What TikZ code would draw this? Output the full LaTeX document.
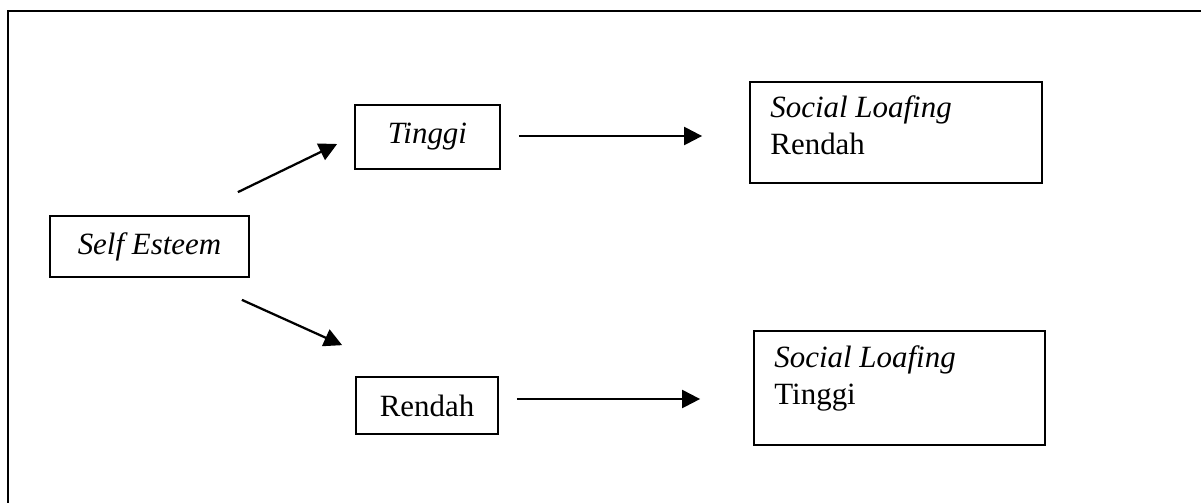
\documentclass[tikz,border=0pt]{standalone}
\usepackage{fontspec}
\setmainfont{Liberation Serif}
\usetikzlibrary{arrows.meta,calc}

\begin{document}
\begin{tikzpicture}[x=0.025cm, y=-0.025cm, line join=miter,
	font=\fontsize{22}{26}\selectfont,
	kotak/.style={draw, line width=1.2pt, inner sep=0pt},
	teks/.style={anchor=base west, inner sep=0pt},
	panah/.style={line width=1.6pt, -{Triangle[length=0.45cm, width=0.45cm]}}]
	\useasboundingbox (0,0) rectangle (1201,502);
	
	% Bingkai luar
	\draw[line width=2pt] (8,515) -- (8,11) -- (1215,11);
	
	% Kotak kiri dan tengah
	\node[kotak, minimum width=4.975cm, minimum height=1.525cm] (se) at (149.5,246.5) {\textit{Self Esteem}};
	\node[kotak, minimum width=3.625cm, minimum height=1.6cm] (ti) at (427.5,137) {\textit{Tinggi}};
	\node[kotak, minimum width=3.55cm, minimum height=1.425cm] (re) at (427,405.5) {Rendah};
	
	% Kotak kanan
	\node[kotak, minimum width=7.3cm, minimum height=2.525cm] (slr) at (896,132.5) {};
	\node[teks] (slrA) at ($(slr.north west)+(21,36)$) {\textit{Social Loafing}};
	\node[teks] (slrB) at ($(slr.north west)+(21,73)$) {Rendah};
	
	\node[kotak, minimum width=7.275cm, minimum height=2.85cm] (slt) at (899.5,388) {};
	\node[teks] (sltA) at ($(slt.north west)+(21,37)$) {\textit{Social Loafing}};
	\node[teks] (sltB) at ($(slt.north west)+(21,74)$) {Tinggi};
	
	% Panah
	\draw[panah] ($(se.north east)+(-12,-23)$) -- ($(ti.west)+(-17,7)$);
	\draw[panah] ($(se.south east)+(-8,22)$) -- ($(re.north west)+(-13,-31)$);
	\draw[panah, shorten <=0.45cm, shorten >=1.175cm] ($(ti.east)+(0,-1)$) -- ($(ti.east -| slr.west)+(0,-1)$);
	\draw[panah, shorten <=0.45cm, shorten >=1.325cm] ($(re.east)+(0,-6.5)$) -- ($(re.east -| slt.west)+(0,-6.5)$);
\end{tikzpicture}
\end{document}
